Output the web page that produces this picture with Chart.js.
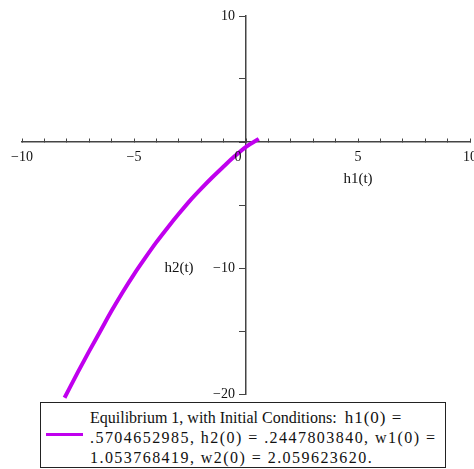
<!DOCTYPE html>
<html>
<head>
<meta charset="utf-8">
<script src="https://cdn.jsdelivr.net/npm/chart.js@4"></script>
<style>
html,body{margin:0;padding:0;background:#fff;}
#wrap{position:relative;width:474px;height:469px;overflow:hidden;}
#c{position:absolute;left:0;top:0;}
#legend{position:absolute;left:40px;top:402px;width:404px;height:64px;border:1px solid #222;
  font-family:"Liberation Serif",serif;font-size:16px;color:#111;background:#fff;}
#legend .swatch{position:absolute;left:5px;top:30px;width:37px;height:3px;}
#legend .txt{position:absolute;left:49px;top:5px;line-height:20px;white-space:nowrap;}
#legend .math{letter-spacing:1.45px;}
</style>
</head>
<body>
<div id="wrap">
<canvas id="c" width="488" height="469" style="width:488px;height:469px"></canvas>
<div id="legend"><div class="swatch" id="sw"></div><div class="txt" id="lt"></div></div>
</div>
<script>
// ---- data ----
const h1Values = [-8.1, -7.5, -7.0, -6.5, -6.0, -5.5, -5.0, -4.5, -4.0, -3.5, -3.0, -2.5, -2.0, -1.5, -1.0, -0.5, 0.0, 0.57];
const h2Values = [-20.3, -18.25, -16.6, -15.0, -13.4, -11.9, -10.5, -9.2, -7.95, -6.8, -5.7, -4.65, -3.7, -2.8, -1.95, -1.12, -0.38, 0.245];
const xTickValues = [-10, -5, 5, 10];
const xTickLabels = ['\u221210', '\u22125', '5', '10'];
const yTickValues = [10, -10, -20];
const yTickLabels = ['10', '\u221210', '\u221220'];
const originLabel = '0';
const xAxisTitle = 'h1(t)';
const yAxisTitle = 'h2(t)';
const legendLines = [
  'Equilibrium 1, with Initial Conditions:',
  '.5704652985, h2(0) = .2447803840, w1(0) =',
  '1.053768419, w2(0) = 2.059623620.'
];
const legendLine1Math = 'h1(0) =';
const curveColor = '#C000EE';

// ---- legend (HTML text) ----
document.getElementById('sw').style.background = curveColor;
const lt = document.getElementById('lt');
const l1 = document.createElement('div');
l1.appendChild(document.createTextNode(legendLines[0] + '\u00a0 '));
const m = document.createElement('span');
m.style.fontSize = '17px';
m.style.letterSpacing = '1px';
m.textContent = legendLine1Math;
l1.appendChild(m);
lt.appendChild(l1);
for (let i = 1; i < legendLines.length; i++) {
  const d = document.createElement('div');
  d.className = 'math';
  d.textContent = legendLines[i];
  lt.appendChild(d);
}

const points = h1Values.map((x, i) => ({x: x, y: h2Values[i]}));
const serif = '"Liberation Serif", "Times New Roman", serif';
const axisColor = '#444';

const annotate = {
  id: 'annotate',
  afterDraw(chart) {
    const {ctx, scales} = chart;
    const ox = scales.x.getPixelForValue(0);
    const oy = scales.y.getPixelForValue(0);
    ctx.save();
    ctx.fillStyle = '#111';
    ctx.font = '14px ' + serif;
    ctx.textAlign = 'right';
    ctx.textBaseline = 'middle';
    yTickValues.forEach((v, i) => {
      ctx.fillText(yTickLabels[i], ox - 11, scales.y.getPixelForValue(v));
    });
    ctx.textAlign = 'center';
    ctx.fillText(originLabel, ox - 8, oy + 15);
    ctx.font = '15px ' + serif;
    ctx.fillText(xAxisTitle, scales.x.getPixelForValue(5), oy + 37);
    ctx.fillText(yAxisTitle, ox - 67, scales.y.getPixelForValue(-10));
    ctx.restore();
  }
};

new Chart(document.getElementById('c'), {
  type: 'scatter',
  data: {
    datasets: [{
      data: points,
      showLine: true,
      borderColor: curveColor,
      backgroundColor: curveColor,
      borderWidth: 4,
      pointRadius: 0,
      cubicInterpolationMode: 'monotone',
      clip: 8
    }]
  },
  options: {
    responsive: false,
    animation: false,
    layout: {autoPadding: false, padding: {left: 22, right: 4, top: 16, bottom: 75}},
    plugins: {legend: {display: false}, tooltip: {enabled: false}},
    scales: {
      x: {
        type: 'linear', min: -10, max: 10,
        position: {y: 0},
        border: {color: axisColor, width: 1.5},
        grid: {drawOnChartArea: false, tickLength: -4, color: axisColor, lineWidth: 1},
        ticks: {
          stepSize: 1, autoSkip: false, maxRotation: 0, padding: 11,
          color: '#111', font: {family: serif, size: 14},
          callback: (v) => { const i = xTickValues.indexOf(v); return i >= 0 ? xTickLabels[i] : ''; }
        }
      },
      y: {
        type: 'linear', min: -20, max: 10,
        position: {x: 0},
        border: {color: axisColor, width: 1.5},
        grid: {drawOnChartArea: false, tickLength: 6, color: axisColor, lineWidth: 1},
        ticks: {
          stepSize: 5, autoSkip: false,
          color: '#111', font: {family: serif, size: 14},
          callback: () => ''
        }
      }
    }
  },
  plugins: [annotate]
});
</script>
</body>
</html>
